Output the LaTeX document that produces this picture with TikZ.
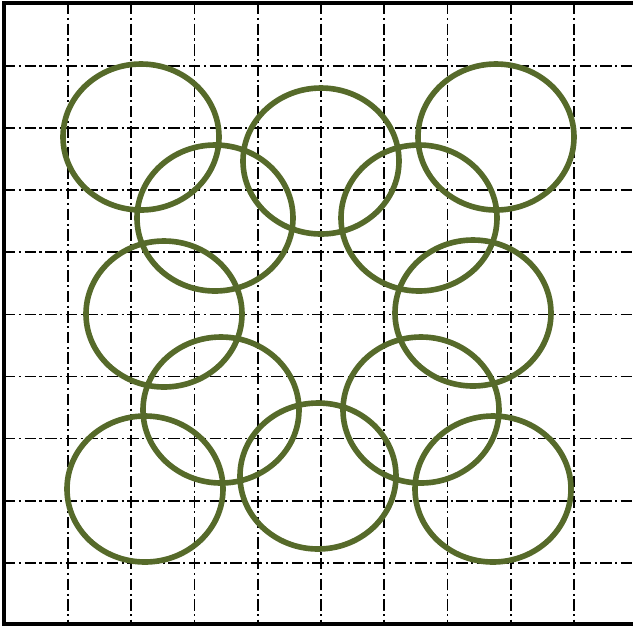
\documentclass[tikz,border=0pt]{standalone}
\usepackage{tikz}
\definecolor{ringgreen}{RGB}{86,106,42}

\begin{document}
\begin{tikzpicture}[x=0.02cm,y=-0.02cm,
  gridline/.style={black,line width=1pt,dash pattern=on 6.5pt off 2pt on 1.2pt off 2pt},
  ring/.style={ringgreen,line width=3.2pt},
  frame/.style={black,line width=2pt}]
\useasboundingbox (0,0) rectangle (633,627);
% dash-dot grid
\foreach \i in {0,...,8} {
  \draw[gridline] ({68+63.25*\i},3) -- ({68+63.25*\i},624);
  \draw[gridline] (4,{66+62.1*\i}) -- (633,{66+62.1*\i});
}
% rings
\foreach \cx/\cy in {141/137,321/161,496/137,215/218,419/218,164/314,
                     473/313,221/410,421/410,145/489,318/476,493/489}
  \draw[ring] (\cx,\cy) ellipse [x radius=78, y radius=73];
% border, open on the right
\draw[frame] (633,3) -- (4,3) -- (4,624) -- (633,624);
\end{tikzpicture}
\end{document}
